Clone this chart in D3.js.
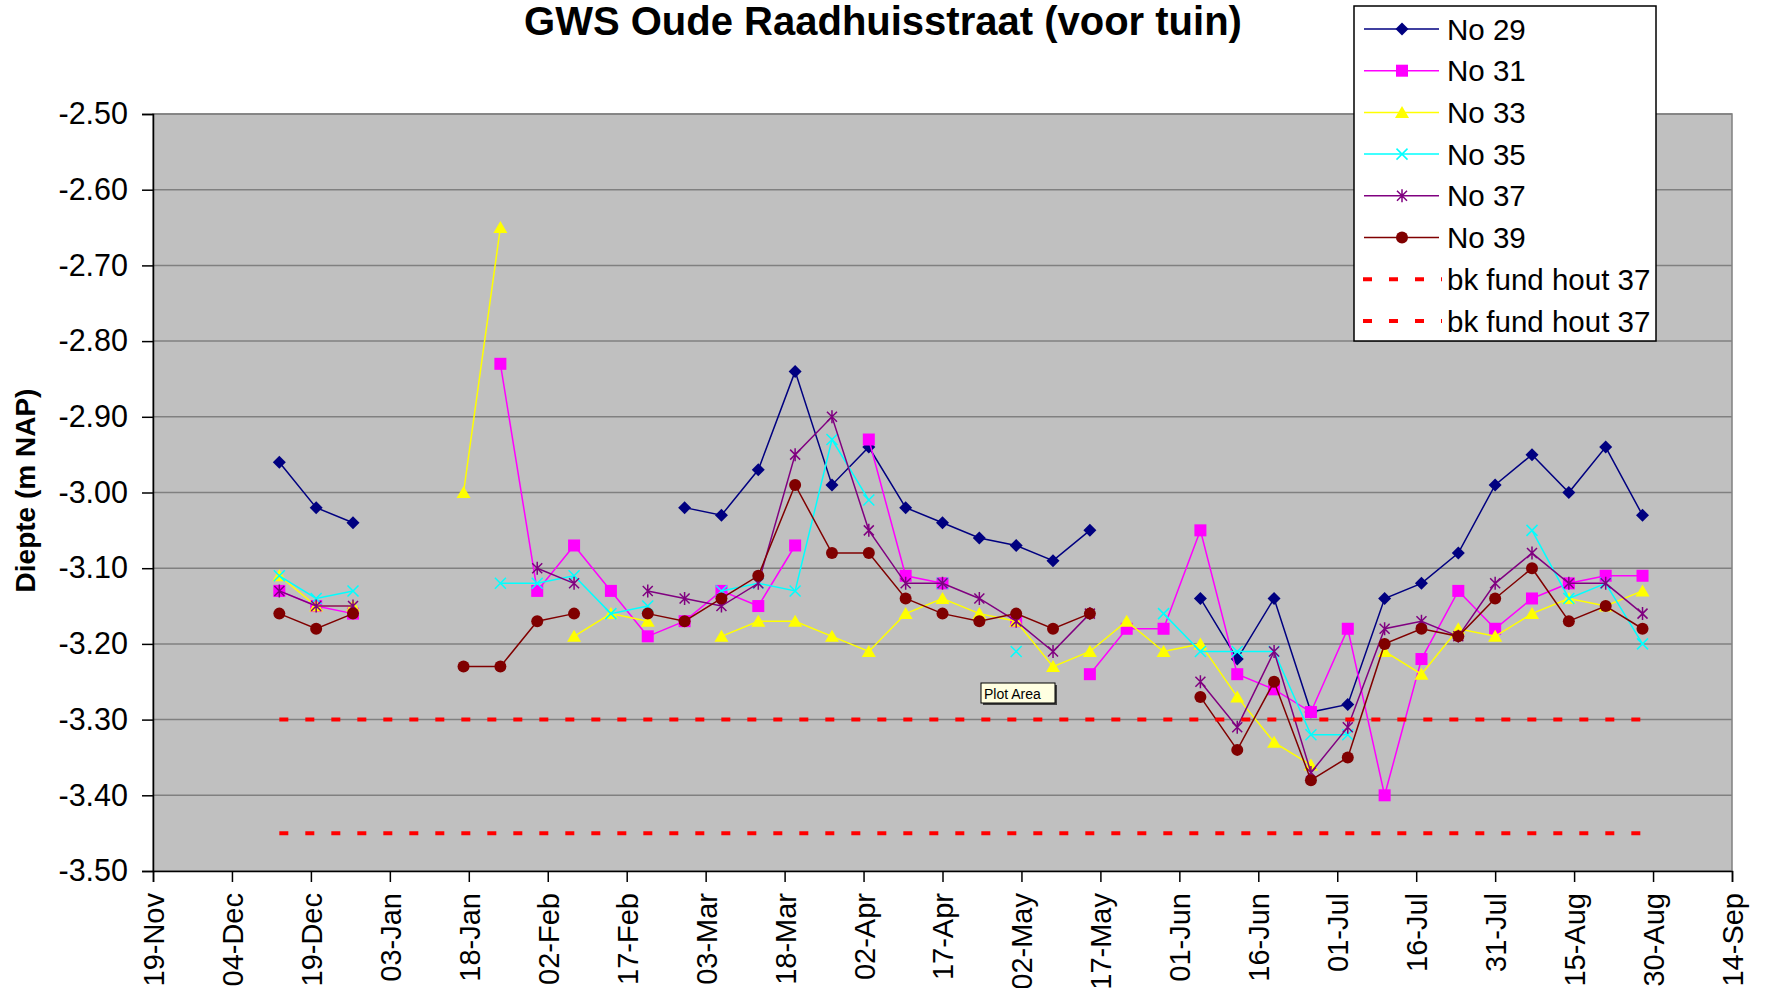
<!DOCTYPE html>
<html>
<head>
<meta charset="utf-8">
<script src="https://d3js.org/d3.v7.min.js"></script>
<style>
  body { margin: 0; background: #fff; }
  text { font-family: "Liberation Sans", Arial, sans-serif; }
</style>
</head>
<body>
<script>
// Measurement dates (weekly), one value per series per date, null = no reading.
const dates = ["2003-12-13","2003-12-20","2003-12-27","2004-01-03","2004-01-10","2004-01-17",
  "2004-01-24","2004-01-31","2004-02-07","2004-02-14","2004-02-21","2004-02-28","2004-03-06",
  "2004-03-13","2004-03-20","2004-03-27","2004-04-03","2004-04-10","2004-04-17","2004-04-24",
  "2004-05-01","2004-05-08","2004-05-15","2004-05-22","2004-05-29","2004-06-05","2004-06-12",
  "2004-06-19","2004-06-26","2004-07-03","2004-07-10","2004-07-17","2004-07-24","2004-07-31",
  "2004-08-07","2004-08-14","2004-08-21","2004-08-28"];

const no29 = [-2.96,-3.02,-3.04,null,null,null,null,null,null,null,null,-3.02,-3.03,-2.97,-2.84,
  -2.99,-2.94,-3.02,-3.04,-3.06,-3.07,-3.09,-3.05,null,null,-3.14,-3.22,-3.14,-3.29,-3.28,-3.14,
  -3.12,-3.08,-2.99,-2.95,-3.00,-2.94,-3.03];
const no31 = [-3.13,-3.15,-3.16,null,null,null,-2.83,-3.13,-3.07,-3.13,-3.19,-3.17,-3.13,-3.15,
  -3.07,null,-2.93,-3.11,-3.12,null,-3.17,null,-3.24,-3.18,-3.18,-3.05,-3.24,-3.26,-3.29,-3.18,
  -3.40,-3.22,-3.13,-3.18,-3.14,-3.12,-3.11,-3.11];
const no33 = [-3.11,-3.15,-3.15,null,null,-3.00,-2.65,null,-3.19,-3.16,-3.17,null,-3.19,-3.17,
  -3.17,-3.19,-3.21,-3.16,-3.14,-3.16,-3.17,-3.23,-3.21,-3.17,-3.21,-3.20,-3.27,-3.33,-3.36,null,
  -3.21,-3.24,-3.18,-3.19,-3.16,-3.14,-3.15,-3.13];
const no35 = [-3.11,-3.14,-3.13,null,null,null,-3.12,-3.12,-3.11,-3.16,-3.15,null,-3.13,-3.12,
  -3.13,-2.93,-3.01,null,-3.12,null,-3.21,null,null,null,-3.16,-3.21,-3.21,-3.21,-3.32,-3.32,null,
  null,null,null,-3.05,-3.14,-3.12,-3.20];
const no37 = [-3.13,-3.15,-3.15,null,null,null,null,-3.10,-3.12,null,-3.13,-3.14,-3.15,-3.12,
  -2.95,-2.90,-3.05,-3.12,-3.12,-3.14,-3.17,-3.21,-3.16,null,null,-3.25,-3.31,-3.21,-3.37,-3.31,
  -3.18,-3.17,-3.19,-3.12,-3.08,-3.12,-3.12,-3.16];
const no39 = [-3.16,-3.18,-3.16,null,null,-3.23,-3.23,-3.17,-3.16,null,-3.16,-3.17,-3.14,-3.11,
  -2.99,-3.08,-3.08,-3.14,-3.16,-3.17,-3.16,-3.18,-3.16,null,null,-3.27,-3.34,-3.25,-3.38,-3.35,
  -3.20,-3.18,-3.19,-3.14,-3.10,-3.17,-3.15,-3.18];
// Two "bk fund hout 37" reference levels
const bkLevels = [-3.30, -3.45];

const tickDates = ["2003-11-19","2003-12-04","2003-12-19","2004-01-03","2004-01-18","2004-02-02",
  "2004-02-17","2004-03-03","2004-03-18","2004-04-02","2004-04-17","2004-05-02","2004-05-17",
  "2004-06-01","2004-06-16","2004-07-01","2004-07-16","2004-07-31","2004-08-15","2004-08-30",
  "2004-09-14"];
const tickLabels = ["19-Nov","04-Dec","19-Dec","03-Jan","18-Jan","02-Feb","17-Feb","03-Mar",
  "18-Mar","02-Apr","17-Apr","02-May","17-May","01-Jun","16-Jun","01-Jul","16-Jul","31-Jul",
  "15-Aug","30-Aug","14-Sep"];
const yTicks = [-3.5,-3.4,-3.3,-3.2,-3.1,-3.0,-2.9,-2.8,-2.7,-2.6,-2.5];

const parse = d3.utcParse("%Y-%m-%d");
const dateObjs = dates.map(parse);
const tickObjs = tickDates.map(parse);

const W = 1766, H = 988;
const plotLeft = 153, plotRight = 1732, plotTop = 114, plotBottom = 871;

let svg = d3.select("body").append("svg")
    .attr("width", W)
    .attr("height", H);

svg.append("rect").attr("width", W).attr("height", H).attr("fill", "#fff");

let x = d3.scaleUtc()
    .domain([tickObjs[0], tickObjs[tickObjs.length - 1]])
    .range([plotLeft, plotRight]);
let y = d3.scaleLinear()
    .domain([-3.5, -2.5])
    .range([plotBottom, plotTop]);

// Plot area
svg.append("rect")
    .attr("x", plotLeft).attr("y", plotTop)
    .attr("width", plotRight - plotLeft).attr("height", plotBottom - plotTop)
    .attr("fill", "#c0c0c0")
    .attr("stroke", "#808080")
    .attr("stroke-width", 1.5);

// Gridlines
svg.append("g")
  .selectAll("line")
  .data(yTicks.slice(1))
  .join("line")
    .attr("x1", plotLeft).attr("x2", plotRight)
    .attr("y1", d => y(d)).attr("y2", d => y(d))
    .attr("stroke", "#808080")
    .attr("stroke-width", 1.5);

// Y axis (plain hyphen minus, as in the original)
let yAxis = svg.append("g")
    .attr("transform", `translate(${plotLeft},0)`)
    .call(d3.axisLeft(y).tickValues(yTicks).tickFormat(d => d.toFixed(2)).tickSize(11).tickPadding(14));
yAxis.select(".domain").attr("stroke", "#000").attr("stroke-width", 1.5);
yAxis.selectAll(".tick line").attr("stroke", "#000").attr("stroke-width", 1.5);
yAxis.selectAll(".tick text")
    .attr("font-size", 30.5)
    .attr("font-family", "Liberation Sans, Arial, sans-serif")
    .attr("fill", "#000");

// X axis
let xAxis = svg.append("g")
    .attr("transform", `translate(0,${plotBottom})`)
    .call(d3.axisBottom(x).tickValues(tickObjs).tickFormat((d, i) => tickLabels[i]).tickSize(11));
xAxis.select(".domain").attr("stroke", "#000").attr("stroke-width", 1.5);
xAxis.selectAll(".tick line").attr("stroke", "#000").attr("stroke-width", 1.5);
xAxis.selectAll(".tick text")
    .attr("font-size", 29)
    .attr("font-family", "Liberation Sans, Arial, sans-serif")
    .attr("fill", "#000")
    .attr("text-anchor", "end")
    .attr("transform", "rotate(-90)")
    .attr("x", -22)
    .attr("y", 0)
    .attr("dy", "0.36em");

// Marker drawing
function drawMarker(g, type, color) {
  if (type === "diamond") {
    g.append("path").attr("d", "M0,-6.5L6.5,0L0,6.5L-6.5,0Z").attr("fill", color);
  } else if (type === "square") {
    g.append("rect").attr("x", -6).attr("y", -6).attr("width", 12).attr("height", 12).attr("fill", color);
  } else if (type === "triangle") {
    g.append("path").attr("d", "M0,-6.5L7,5.5L-7,5.5Z").attr("fill", color);
  } else if (type === "x") {
    g.append("path").attr("d", "M-5.5,-5.5L5.5,5.5M-5.5,5.5L5.5,-5.5").attr("stroke", color).attr("stroke-width", 1.5);
  } else if (type === "star") {
    g.append("path").attr("d", "M-5,-5L5,5M-5,5L5,-5M0,-6.5L0,6.5").attr("stroke", color).attr("stroke-width", 1.5);
  } else if (type === "circle") {
    g.append("circle").attr("r", 6).attr("fill", color);
  }
}

const series = [
  { name: "No 29", values: no29, color: "#000080", marker: "diamond" },
  { name: "No 31", values: no31, color: "#ff00ff", marker: "square" },
  { name: "No 33", values: no33, color: "#ffff00", marker: "triangle" },
  { name: "No 35", values: no35, color: "#00ffff", marker: "x" },
  { name: "No 37", values: no37, color: "#800080", marker: "star" },
  { name: "No 39", values: no39, color: "#800000", marker: "circle" }
];

let line = d3.line()
    .defined(d => d.v != null)
    .x(d => x(d.date))
    .y(d => y(d.v));

series.forEach(s => {
  let pts = dateObjs.map((d, i) => ({ date: d, v: s.values[i] }));
  svg.append("path")
      .datum(pts)
      .attr("fill", "none")
      .attr("stroke", s.color)
      .attr("stroke-width", 1.5)
      .attr("d", line);
  svg.append("g")
    .selectAll("g")
    .data(pts.filter(p => p.v != null))
    .join("g")
      .attr("transform", p => `translate(${x(p.date)},${y(p.v)})`)
      .each(function() { drawMarker(d3.select(this), s.marker, s.color); });
});

// bk fund hout 37 levels
bkLevels.forEach(level => {
  let pts = dateObjs.map(d => ({ date: d, v: level }));
  svg.append("path")
      .datum(pts)
      .attr("fill", "none")
      .attr("stroke", "#ff0000")
      .attr("stroke-width", 4)
      .attr("stroke-dasharray", "9,17")
      .attr("d", line);
});

// Title
svg.append("text")
    .attr("x", 883).attr("y", 35)
    .attr("text-anchor", "middle")
    .attr("font-size", 40)
    .attr("font-weight", "bold")
    .text("GWS Oude Raadhuisstraat (voor tuin)");

// Y axis title
svg.append("text")
    .attr("transform", `translate(35,${(plotTop + plotBottom) / 2 - 2}) rotate(-90)`)
    .attr("text-anchor", "middle")
    .attr("font-size", 28)
    .attr("font-weight", "bold")
    .text("Diepte (m NAP)");

// Legend
const legendItems = series.map(s => ({ name: s.name, color: s.color, marker: s.marker }))
  .concat(bkLevels.map(() => ({ name: "bk fund hout 37", color: "#ff0000", marker: "dash" })));

let legend = svg.append("g");
legend.append("rect")
    .attr("x", 1354).attr("y", 6)
    .attr("width", 302).attr("height", 335)
    .attr("fill", "#fff")
    .attr("stroke", "#000")
    .attr("stroke-width", 1.5);

legendItems.forEach((item, i) => {
  let ly = 29 + i * 41.7;
  let g = legend.append("g");
  if (item.marker === "dash") {
    g.append("line")
        .attr("x1", 1363).attr("x2", 1442)
        .attr("y1", ly).attr("y2", ly)
        .attr("stroke", item.color)
        .attr("stroke-width", 4)
        .attr("stroke-dasharray", "9,17");
  } else {
    g.append("line")
        .attr("x1", 1364).attr("x2", 1439)
        .attr("y1", ly).attr("y2", ly)
        .attr("stroke", item.color)
        .attr("stroke-width", 1.5);
    drawMarker(g.append("g").attr("transform", `translate(1402,${ly})`), item.marker, item.color);
  }
  g.append("text")
      .attr("x", 1447).attr("y", ly)
      .attr("dy", "0.36em")
      .attr("font-size", 29.5)
      .text(item.name);
});

// Excel "Plot Area" tooltip visible in the screenshot
let tip = svg.append("g");
tip.append("rect")
    .attr("x", 983).attr("y", 685).attr("width", 74).attr("height", 20)
    .attr("fill", "#404040");
tip.append("rect")
    .attr("x", 981).attr("y", 683).attr("width", 74).attr("height", 20)
    .attr("fill", "#ffffe1")
    .attr("stroke", "#000")
    .attr("stroke-width", 1);
tip.append("text")
    .attr("x", 984).attr("y", 698.5)
    .attr("font-size", 14)
    .attr("font-family", "DejaVu Sans, sans-serif")
    .text("Plot Area");
</script>
</body>
</html>
